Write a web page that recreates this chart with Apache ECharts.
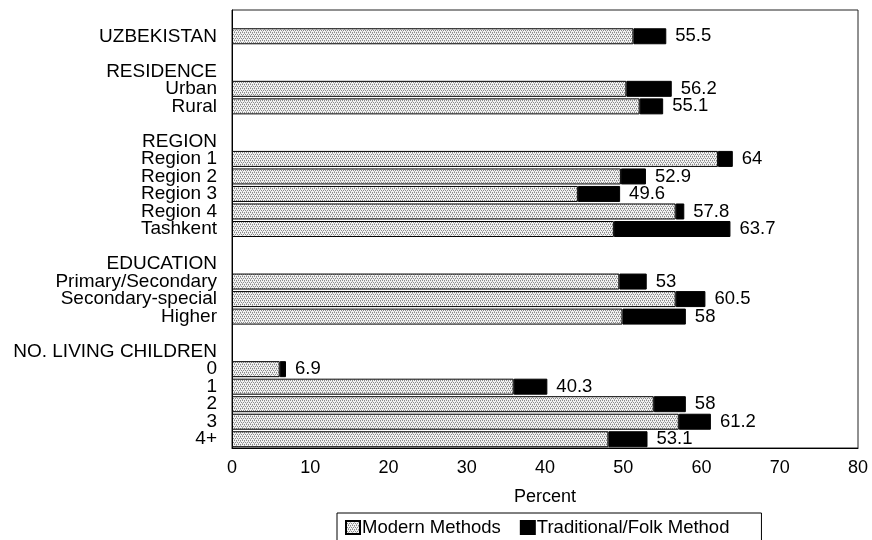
<!DOCTYPE html>
<html>
<head>
<meta charset="utf-8">
<script src="https://cdn.jsdelivr.net/npm/echarts@6/dist/echarts.min.js"></script>
<style>
html,body{margin:0;padding:0;background:#fff;}
#chart{width:872px;height:540px;}
</style>
</head>
<body>
<div id="chart"></div>
<script>
// ---- data ----
var categories = ['', 'UZBEKISTAN', ' ', 'RESIDENCE', 'Urban', 'Rural', '  ', 'REGION',
  'Region 1', 'Region 2', 'Region 3', 'Region 4', 'Tashkent', '   ', 'EDUCATION',
  'Primary/Secondary', 'Secondary-special', 'Higher', '    ', 'NO. LIVING CHILDREN',
  '0', '1', '2', '3', '4+'];
var modern = ['-', 51.3, '-', '-', 50.4, 52.1, '-', '-',
  62.1, 49.7, 44.2, 56.7, 48.8, '-', '-',
  49.5, 56.7, 49.9, '-', '-',
  6.1, 36.0, 53.9, 57.1, 48.1];
var traditional = ['-', 4.2, '-', '-', 5.8, 3.0, '-', '-',
  1.9, 3.2, 5.4, 1.1, 14.9, '-', '-',
  3.5, 3.8, 8.1, '-', '-',
  0.8, 4.3, 4.1, 4.1, 5.0];
var totals = ['', '55.5', '', '', '56.2', '55.1', '', '',
  '64', '52.9', '49.6', '57.8', '63.7', '', '',
  '53', '60.5', '58', '', '',
  '6.9', '40.3', '58', '61.2', '53.1'];
var xTicks = [0, 10, 20, 30, 40, 50, 60, 70, 80];

// stipple pattern for "Modern Methods"
var pc = document.createElement('canvas');
pc.width = 4; pc.height = 4;
var g = pc.getContext('2d');
g.fillStyle = '#f2f2f2'; g.fillRect(0, 0, 4, 4);
g.fillStyle = '#8a8a8a';
g.fillRect(0, 0, 1, 1); g.fillRect(2, 0, 1, 1);
g.fillRect(1, 2, 1, 1); g.fillRect(3, 2, 1, 1);
g.fillStyle = '#b5b5b5';
g.fillRect(0, 1, 1, 1); g.fillRect(2, 3, 1, 1);

var FONT = '"Liberation Sans", Arial, Helvetica, sans-serif';
var chart = echarts.init(document.getElementById('chart'), null, {renderer: 'canvas'});
chart.setOption({
  animation: false,
  backgroundColor: '#fff',
  textStyle: {fontFamily: FONT, color: '#000'},
  grid: {left: 232, right: 14, top: 10, bottom: 92, show: true,
    borderColor: '#222', borderWidth: 1, backgroundColor: 'transparent'},
  xAxis: {
    type: 'value', min: xTicks[0], max: xTicks[xTicks.length - 1], interval: 10,
    name: 'Percent', nameLocation: 'middle', nameGap: 40,
    nameTextStyle: {fontSize: 18, color: '#000', fontFamily: FONT},
    axisLine: {show: true, lineStyle: {color: '#000', width: 1}},
    axisTick: {show: false},
    splitLine: {show: false},
    axisLabel: {fontSize: 18, color: '#000', margin: 11, fontFamily: FONT}
  },
  yAxis: {
    type: 'category', data: categories, inverse: true,
    axisLine: {show: true, lineStyle: {color: '#000', width: 1}},
    axisTick: {show: false},
    splitLine: {show: false},
    axisLabel: {fontSize: 19, color: '#000', margin: 15, fontFamily: FONT, interval: 0}
  },
  legend: {
    left: 337, top: 513,
    padding: [5, 32, 6, 8],
    borderColor: '#000', borderWidth: 1,
    icon: 'rect',
    itemWidth: 14, itemHeight: 13, itemGap: 19,
    textStyle: {fontSize: 18.5, color: '#000', fontFamily: FONT, padding: [0, 0, 0, -3]},
    data: ['Modern Methods', 'Traditional/Folk Method']
  },
  series: [
    {
      name: 'Modern Methods', type: 'bar', stack: 'total', barWidth: 16,
      itemStyle: {color: {image: pc, repeat: 'repeat'}, borderColor: '#000', borderWidth: 1},
      data: modern
    },
    {
      name: 'Traditional/Folk Method', type: 'bar', stack: 'total', barWidth: 16,
      itemStyle: {color: '#000', borderColor: '#000', borderWidth: 1},
      label: {
        show: true, position: 'right', distance: 9, fontSize: 18.5, color: '#000', fontFamily: FONT,
        formatter: function (p) { return totals[p.dataIndex]; }
      },
      data: traditional
    }
  ]
});
</script>
</body>
</html>
